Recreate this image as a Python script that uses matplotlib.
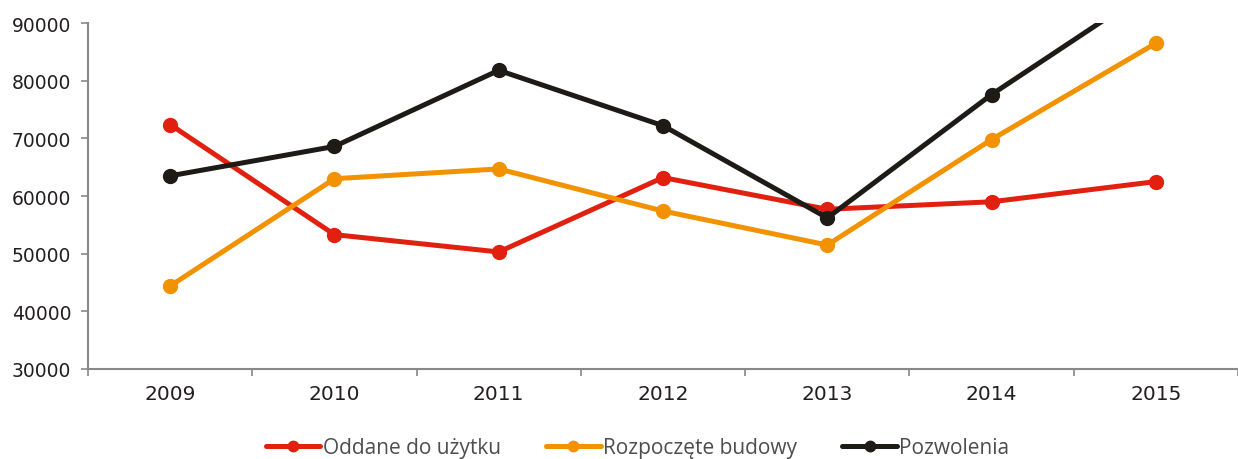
import matplotlib
matplotlib.use("Agg")
import matplotlib.pyplot as plt
from matplotlib import font_manager

years = ["2009", "2010", "2011", "2012", "2013", "2014", "2015"]
oddane = [72400, 53300, 50300, 63200, 57700, 59000, 62500]
rozpoczete = [44400, 63000, 64700, 57400, 51500, 69800, 86500]
pozwolenia = [63500, 68600, 81800, 72200, 56200, 77600, 96500]

series = [
    ("Oddane do użytku", oddane, "#E2200F"),
    ("Rozpoczęte budowy", rozpoczete, "#F39200"),
    ("Pozwolenia", pozwolenia, "#1E1B17"),
]

names = {f.name for f in font_manager.fontManager.ttflist}
legend_font = "Liberation Sans Narrow" if "Liberation Sans Narrow" in names else "Open Sans"

fig = plt.figure(figsize=(12.38, 4.60), dpi=100)
ax = fig.add_axes([0.0711, 0.1957, 0.9289, 0.752])

x = list(range(len(years)))
for label, vals, color in series:
    ax.plot(x, vals, color=color, lw=3.6, marker="o", markersize=10,
            label=label, solid_capstyle="round", clip_on=True)

ax.set_xlim(-0.5, len(years) - 0.5)
ax.set_ylim(30000, 90000)
ax.set_yticks(range(30000, 90001, 10000))
ax.set_xticks(x)
ax.set_xticklabels(years, family="DejaVu Sans")
ax.set_xticks([i + 0.5 for i in range(-1, len(years))], minor=True)
ax.tick_params(axis="x", which="major", length=0, pad=11, labelsize=14.5, labelcolor="#231F20")
ax.tick_params(axis="x", which="minor", length=5, width=1.2, color="#888888", direction="out")
ax.tick_params(axis="y", length=5, width=1.2, color="#888888", labelsize=13.5, labelcolor="#231F20", pad=7)
for t in ax.get_yticklabels():
    t.set_family("DejaVu Sans")

for s in ["top", "right"]:
    ax.spines[s].set_visible(False)
for s in ["left", "bottom"]:
    ax.spines[s].set_color("#888888")
    ax.spines[s].set_linewidth(1.5)

leg = fig.legend(loc="center", bbox_to_anchor=(0.515, 0.025), ncol=3, frameon=False,
                 prop={"family": legend_font, "size": 15}, handlelength=2.6,
                 columnspacing=2.2, handletextpad=0.1, markerscale=0.75)
for t in leg.get_texts():
    t.set_color("#4D4D4D")

fig.savefig("out.png", dpi=100)
